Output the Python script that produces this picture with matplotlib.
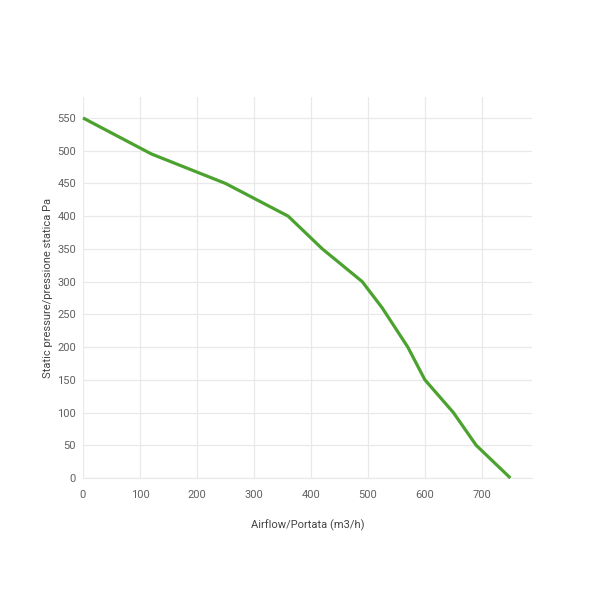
import matplotlib
matplotlib.use("Agg")
import matplotlib.pyplot as plt

# Fan curve: airflow vs static pressure
airflow = [0, 120, 250, 360, 420, 490, 525, 570, 600, 650, 690, 750]
pressure = [550, 495, 450, 400, 350, 300, 260, 200, 150, 100, 50, 0]

x_ticks = [0, 100, 200, 300, 400, 500, 600, 700]
y_ticks = [0, 50, 100, 150, 200, 250, 300, 350, 400, 450, 500, 550]

plt.rcParams['font.family'] = ['Roboto', 'DejaVu Sans']

fig = plt.figure(figsize=(5.89, 5.89), dpi=100)
ax = fig.add_axes([83 / 589, 1 - 478 / 589, (532 - 83) / 589, (478 - 97) / 589])

ax.plot(airflow, pressure, color="#4ba22e", linewidth=2.3, solid_joinstyle="round",
        solid_capstyle="butt", zorder=3, clip_on=False)

ax.set_xlim(0, 788)
ax.set_ylim(0, 582)
ax.set_xticks(x_ticks)
ax.set_yticks(y_ticks)

ax.grid(True, color="#e9e9e9", linewidth=0.9)
ax.set_axisbelow(True)
for side in ("top", "right", "left"):
    ax.spines[side].set_visible(False)
ax.spines["bottom"].set_color("#e9e9e9")
ax.spines["bottom"].set_linewidth(0.9)

ax.tick_params(axis="both", length=0, labelsize=8, labelcolor="#606060")
ax.tick_params(axis="x", pad=9)
ax.tick_params(axis="y", pad=5)

ax.set_xlabel("Airflow/Portata (m3/h)", fontsize=8, color="#444444", labelpad=14)
ax.set_ylabel("Static pressure/pressione statica Pa", fontsize=8, color="#444444", labelpad=3)

fig.savefig("out.png", dpi=100, facecolor="white")
